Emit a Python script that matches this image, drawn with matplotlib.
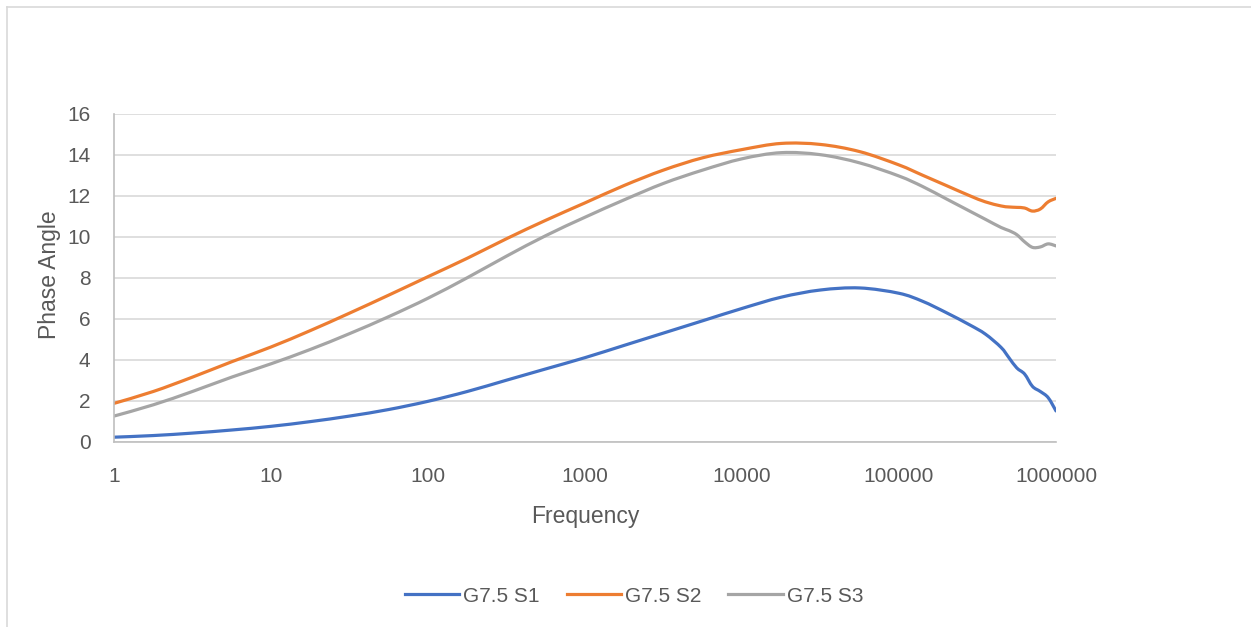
import numpy as np
import matplotlib.pyplot as plt
from matplotlib.lines import Line2D
from matplotlib.path import Path
from matplotlib.patches import PathPatch

# frequency points (Hz) and phase angle for each sample
freq = [1, 1.78, 3.16, 5.62, 10, 17.8, 31.6, 56.2, 100, 178, 316, 562,
        1000, 1778, 3162, 5623, 10000, 17783, 31623, 56234, 100000,
        141254, 199526, 281838, 354813, 446684, 501187, 562341, 630957,
        707946, 794328, 891251, 1000000]

s1 = [0.22, 0.3, 0.42, 0.57, 0.75, 0.98, 1.25, 1.57, 1.97, 2.45, 3.0, 3.55,
      4.1, 4.7, 5.3, 5.9, 6.5, 7.05, 7.4, 7.5, 7.24,
      6.85, 6.3, 5.7, 5.25, 4.6, 4.1, 3.6, 3.3,
      2.7, 2.45, 2.15, 1.5]

s2 = [1.87, 2.45, 3.15, 3.9, 4.62, 5.42, 6.27, 7.15, 8.05, 8.95, 9.9, 10.8,
      11.65, 12.5, 13.25, 13.85, 14.25, 14.55, 14.5, 14.15, 13.5,
      13.0, 12.5, 12.0, 11.7, 11.5, 11.45, 11.43, 11.4,
      11.25, 11.35, 11.7, 11.87]

s3 = [1.25, 1.8, 2.45, 3.15, 3.8, 4.5, 5.27, 6.1, 7.0, 8.0, 9.05, 10.05,
      10.95, 11.8, 12.6, 13.25, 13.8, 14.1, 14.0, 13.6, 12.96,
      12.45, 11.85, 11.25, 10.85, 10.45, 10.3, 10.1, 9.75,
      9.48, 9.5, 9.65, 9.55]

labels = ["G7.5 S1", "G7.5 S2", "G7.5 S3"]
colors = ["#4472C4", "#ED7D31", "#A5A5A5"]
xticks = [1, 10, 100, 1000, 10000, 100000, 1000000]
xtick_labels = ["1", "10", "100", "1000", "10000", "100000", "1000000"]

plt.rcParams['font.family'] = ['Liberation Sans', 'DejaVu Sans']
txt = "#595959"


def smooth_path(x, y):
    # Catmull-Rom style smoothing (like Excel's smoothed line), done in log-x space
    lx = np.log10(x)
    y = np.asarray(y, float)
    verts = [(x[0], y[0])]
    codes = [Path.MOVETO]
    n = len(lx)
    for i in range(n - 1):
        i0, i3 = max(i - 1, 0), min(i + 2, n - 1)
        c1x = lx[i] + (lx[i + 1] - lx[i0]) / 6
        c1y = y[i] + (y[i + 1] - y[i0]) / 6
        c2x = lx[i + 1] - (lx[i3] - lx[i]) / 6
        c2y = y[i + 1] - (y[i3] - y[i]) / 6
        verts += [(10 ** c1x, c1y), (10 ** c2x, c2y), (x[i + 1], y[i + 1])]
        codes += [Path.CURVE4] * 3
    return Path(verts, codes)


W, H = 1251, 627
fig = plt.figure(figsize=(W / 100, H / 100), dpi=100)
ax = fig.add_axes([114 / W, 1 - 441.7 / H, (1056 - 114) / W, (441.7 - 113.7) / H])

handles = []
for y, lab, c in zip([s1, s2, s3], labels, colors):
    ax.add_patch(PathPatch(smooth_path(freq, y), facecolor='none', edgecolor=c,
                           lw=2.3, capstyle='round', joinstyle='round'))
    handles.append(Line2D([], [], color=c, lw=2.3, label=lab))

ax.set_xscale('log')
ax.set_xlim(1, 1000000)
ax.set_ylim(0, 16)
ax.set_yticks(range(0, 17, 2))
ax.set_xticks(xticks)
ax.set_xticklabels(xtick_labels)
ax.minorticks_off()
ax.tick_params(axis='both', length=0, labelsize=15, labelcolor=txt)
ax.tick_params(axis='x', pad=18)
ax.tick_params(axis='y', pad=17)
ax.grid(axis='y', color="#D9D9D9", lw=1.2)
ax.set_axisbelow(True)
for s in ['top', 'right']:
    ax.spines[s].set_visible(False)
for s in ['left', 'bottom']:
    ax.spines[s].set_color("#BFBFBF")
    ax.spines[s].set_linewidth(1.2)

fig.text(50 / W, 1 - 275 / H, "Phase Angle", rotation=90, ha='center', va='center',
         fontsize=16.5, color=txt)
fig.text(585 / W, 1 - 517 / H, "Frequency", ha='center', va='center',
         fontsize=16.5, color=txt)

fig.legend(handles=handles, loc='center', bbox_to_anchor=(634 / W, 1 - 596 / H), ncol=3,
           frameon=False, fontsize=15, labelcolor=txt, handlelength=2.6,
           handletextpad=0.2, columnspacing=1.3)

# outer chart border
fig.add_artist(Line2D([7 / W, 1], [1 - 7 / H, 1 - 7 / H], color="#D9D9D9", lw=1.2))
fig.add_artist(Line2D([7 / W, 7 / W], [0, 1 - 7 / H], color="#D9D9D9", lw=1.2))

fig.savefig("out.png", dpi=100)
